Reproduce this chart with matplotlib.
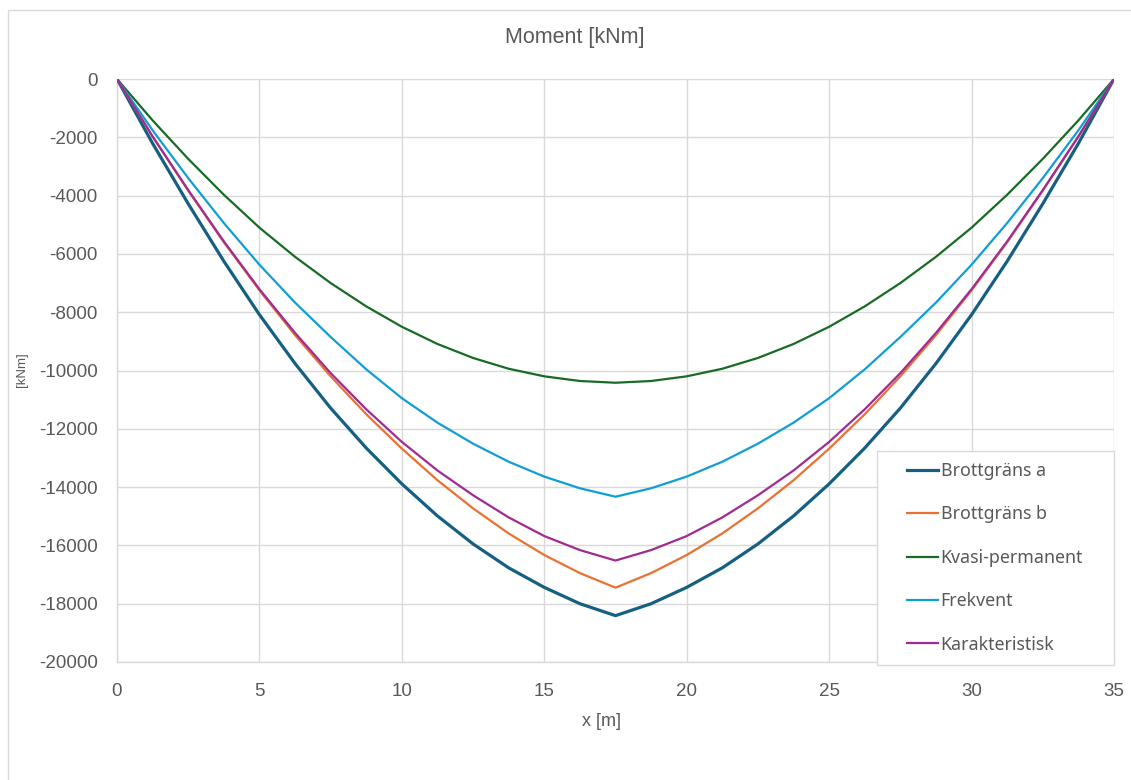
import matplotlib
matplotlib.use("Agg")
import matplotlib.pyplot as plt
from matplotlib.patches import Rectangle

plt.rcParams["axes.unicode_minus"] = False

x_m = [0, 1.25, 2.5, 3.75, 5, 6.25, 7.5, 8.75, 10, 11.25, 12.5, 13.75, 15, 16.25, 17.5,
       18.75, 20, 21.25, 22.5, 23.75, 25, 26.25, 27.5, 28.75, 30, 31.25, 32.5, 33.75, 35]
brott_a = [0, -2210, -4280, -6250, -8085, -9760, -11290, -12660, -13890, -14990, -15950,
           -16770, -17440, -18000, -18410,
           -18000, -17440, -16770, -15950, -14990, -13890, -12660, -11290, -9760, -8085,
           -6250, -4280, -2210, 0]
brott_b = [0, -1975, -3830, -5600, -7250, -8785, -10200, -11500, -12680, -13765, -14730,
           -15590, -16330, -16950, -17450,
           -16950, -16330, -15590, -14730, -13765, -12680, -11500, -10200, -8785, -7250,
           -5600, -3830, -1975, 0]
kvasi = [0, -1420, -2740, -3970, -5100, -6100, -7000, -7800, -8500, -9090, -9570,
         -9940, -10200, -10360, -10420,
         -10360, -10200, -9940, -9570, -9090, -8500, -7800, -7000, -6100, -5100,
         -3970, -2740, -1420, 0]
frekvent = [0, -1760, -3400, -4940, -6370, -7670, -8850, -9960, -10950, -11790, -12510,
            -13130, -13640, -14040, -14330,
            -14040, -13640, -13130, -12510, -11790, -10950, -9960, -8850, -7670, -6370,
            -4940, -3400, -1760, 0]
karakt = [0, -1970, -3810, -5570, -7210, -8710, -10090, -11330, -12450, -13430, -14280,
          -15040, -15680, -16160, -16520,
          -16160, -15680, -15040, -14280, -13430, -12450, -11330, -10090, -8710, -7210,
          -5570, -3810, -1970, 0]

series_names = ["Brottgräns a", "Brottgräns b", "Kvasi-permanent", "Frekvent", "Karakteristisk"]
x_ticks = [0, 5, 10, 15, 20, 25, 30, 35]
y_ticks = list(range(-20000, 1, 2000))

colors = ["#156082", "#E97132", "#196B24", "#0F9ED5", "#A02B93"]
widths = [2.3, 1.6, 1.6, 1.6, 1.6]
GRAY = "#595959"
FAM = ["Liberation Sans", "DejaVu Sans"]

W, H = 1131, 780
fig = plt.figure(figsize=(W / 100, H / 100), dpi=100)
fig.patch.set_facecolor("white")
fig.patches.append(Rectangle((8 / W, -0.1), 1.2, 0.1 + (H - 10) / H, transform=fig.transFigure,
                             fill=False, edgecolor="#d9d9d9", linewidth=1.0))

ax = fig.add_axes([117 / W, 1 - 662 / H, 997 / W, 583 / H])
handles = []
for vals, name, c, lw in zip([brott_a, brott_b, kvasi, frekvent, karakt], series_names, colors, widths):
    h, = ax.plot(x_m, vals, color=c, lw=lw, label=name, solid_joinstyle="round", zorder=3)
    handles.append(h)

ax.set_xlim(0, 35)
ax.set_ylim(-20000, 0)
ax.set_xticks(x_ticks)
ax.set_yticks(y_ticks)
ax.grid(True, color="#d9d9d9", lw=1.0, zorder=0)
ax.set_axisbelow(True)
for s in ["top", "right"]:
    ax.spines[s].set_visible(False)
for s in ["left", "bottom"]:
    ax.spines[s].set_color("#d9d9d9")
    ax.spines[s].set_linewidth(1.0)
ax.tick_params(length=0, colors=GRAY, labelsize=13.5)
ax.tick_params(axis="x", pad=15)
ax.tick_params(axis="y", pad=14)
for lab in ax.get_xticklabels() + ax.get_yticklabels():
    lab.set_family(FAM)
    lab.set_color(GRAY)

fig.text(575 / W, 1 - 38 / H, "Moment [kNm]", ha="center", va="center", fontsize=15.5,
         color=GRAY, family=FAM)
fig.text(601 / W, 1 - 722 / H, "x [m]", ha="center", va="center", fontsize=13,
         color=GRAY, family=FAM)
fig.text(22 / W, 1 - 370 / H, "[kNm]", ha="center", va="center", fontsize=9.5, rotation=90,
         color=GRAY, family=FAM)

# legend box
fig.patches.append(Rectangle((877 / W, 1 - 665 / H), (1114 - 877) / W, (665 - 451) / H,
                             transform=fig.transFigure, facecolor="white",
                             edgecolor="#d9d9d9", linewidth=1.0, zorder=4))
leg = fig.legend(handles=handles, labels=series_names, loc="upper left",
                 bbox_to_anchor=(907 / W, 1 - 462 / H), frameon=False,
                 handlelength=1.74, handletextpad=0.15, labelspacing=1.43, borderpad=0,
                 borderaxespad=0,
                 prop={"family": ["Noto Sans", "DejaVu Sans"], "size": 12.8})
leg.set_zorder(5)
for t in leg.get_texts():
    t.set_color(GRAY)

fig.savefig("out.png", dpi=100)
